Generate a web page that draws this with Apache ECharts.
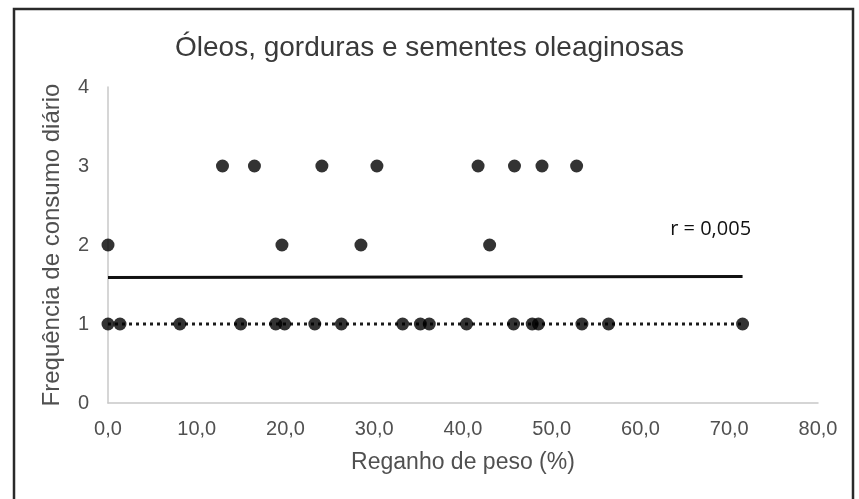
<!DOCTYPE html>
<html>
<head>
<meta charset="utf-8">
<script src="https://cdn.jsdelivr.net/npm/echarts@6/dist/echarts.min.js"></script>
<style>
  html, body { margin: 0; padding: 0; background: #fff; }
  #chart { width: 859px; height: 499px; }
</style>
</head>
<body>
<div id="chart"></div>
<script>
// Weight regain (%) of each participant, grouped by daily consumption frequency
const regainFreq3 = [12.9, 16.5, 24.1, 30.3, 41.7, 45.8, 48.9, 52.8];
const regainFreq2 = [0.0, 19.6, 28.5, 43.0];
const regainFreq1 = [0.0, 1.35, 8.1, 14.95, 18.9, 19.9, 23.3, 26.3, 33.2, 35.2, 36.2,
                     40.4, 45.7, 47.8, 48.5, 53.4, 56.4, 71.5];

// Linear trend over all points, and the trend of the frequency-1 group
const trendX = [0, 71.5];
const trendY = [1.59, 1.60];
const trendLowX = [0, 71.5];
const trendLowY = [1, 1];

const xTicks = { min: 0, max: 80, step: 10 };
const yTicks = { min: 0, max: 4, step: 1 };
const rLabel = 'r = 0,005';

const points = []
  .concat(regainFreq3.map(x => [x, 3]))
  .concat(regainFreq2.map(x => [x, 2]))
  .concat(regainFreq1.map(x => [x, 1]));

const chart = echarts.init(document.getElementById('chart'));
const textColor = '#505050';
const fontFam = '"Liberation Sans", Arial, sans-serif';

chart.setOption({
  backgroundColor: '#ffffff',
  animation: false,
  title: {
    text: 'Óleos, gorduras e sementes oleaginosas',
    left: 'center',
    top: 29,
    textStyle: { fontFamily: fontFam, fontSize: 28, fontWeight: 'normal', color: '#3a3a3a' }
  },
  grid: { left: 108, right: 41, top: 87, bottom: 96 },
  xAxis: {
    type: 'value',
    min: xTicks.min, max: xTicks.max, interval: xTicks.step,
    name: 'Reganho de peso (%)',
    nameLocation: 'middle',
    nameGap: 48,
    nameTextStyle: { fontFamily: fontFam, fontSize: 23, color: textColor },
    axisLine: { lineStyle: { color: '#c8c8c8', width: 1.5 } },
    axisTick: { show: false },
    splitLine: { show: false },
    axisLabel: {
      fontFamily: fontFam, fontSize: 20, color: textColor, margin: 16,
      formatter: v => v.toFixed(1).replace('.', ',')
    }
  },
  yAxis: {
    type: 'value',
    min: yTicks.min, max: yTicks.max, interval: yTicks.step,
    name: 'Frequência de consumo diário',
    nameLocation: 'middle',
    nameGap: 44,
    nameTextStyle: { fontFamily: fontFam, fontSize: 24, color: textColor },
    axisLine: { show: true, lineStyle: { color: '#c8c8c8', width: 1.5 } },
    axisTick: { show: false },
    splitLine: { show: false },
    axisLabel: { fontFamily: fontFam, fontSize: 20, color: textColor, margin: 19 }
  },
  graphic: [
    {
      type: 'rect',
      shape: { x: 14, y: 9, width: 839, height: 520 },
      style: { fill: 'none', stroke: '#2a2a2a', lineWidth: 2.5 },
      silent: true
    }
  ],
  series: [
    {
      type: 'line',
      data: trendLowX.map((x, i) => [x, trendLowY[i]]),
      symbol: 'none',
      lineStyle: { color: '#1a1a1a', width: 3, type: [3, 4] },
      z: 1
    },
    {
      type: 'line',
      data: trendX.map((x, i) => [x, trendY[i]]),
      symbol: 'none',
      lineStyle: { color: '#111111', width: 3 },
      z: 1,
      markPoint: {
        symbol: 'rect', symbolSize: 1,
        itemStyle: { color: 'rgba(0,0,0,0)' },
        data: [{ coord: [67.9, 2.2] }],
        label: {
          show: true, formatter: rLabel, position: 'inside',
          fontFamily: '"Open Sans", "Noto Sans", sans-serif', fontSize: 20, color: '#111'
        }
      }
    },
    {
      type: 'scatter',
      data: points,
      symbol: 'circle',
      symbolSize: 13,
      itemStyle: { color: '#000000' },
      z: 3
    }
  ]
});
</script>
</body>
</html>
